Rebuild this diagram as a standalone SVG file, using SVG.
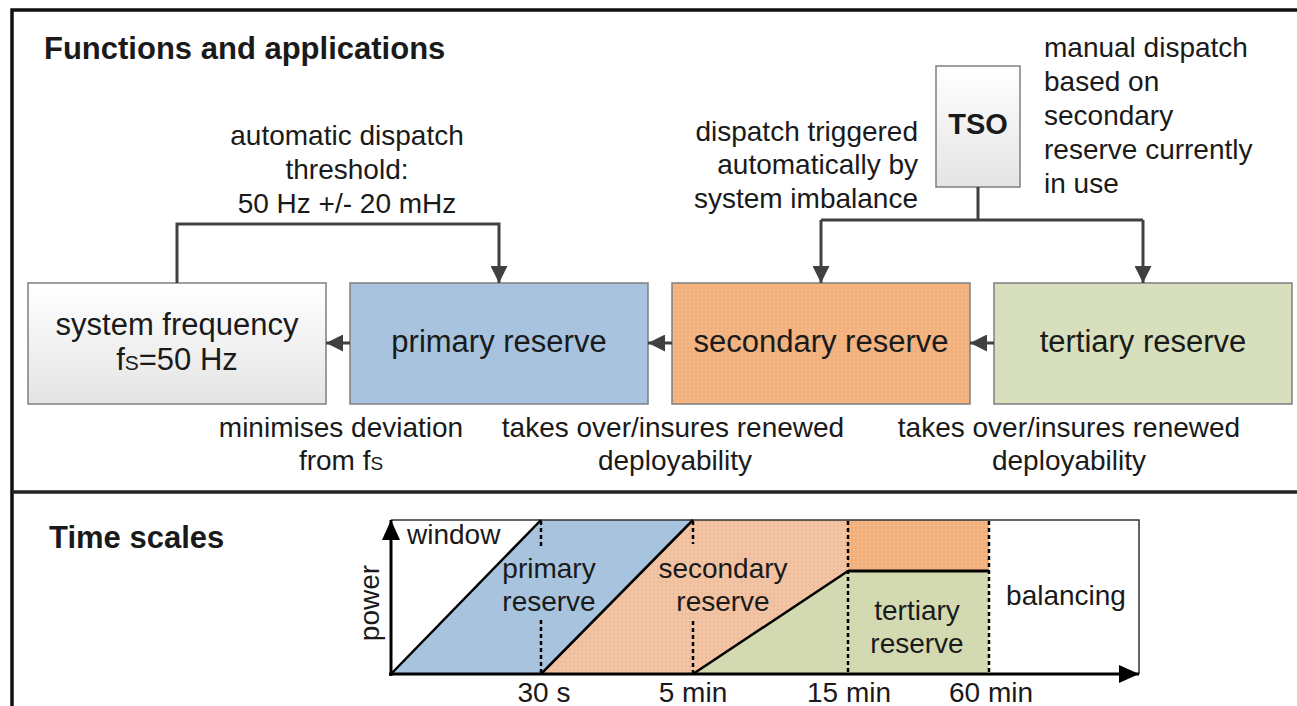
<svg xmlns="http://www.w3.org/2000/svg" width="1297" height="706" viewBox="0 0 1297 706">
<defs>
<style>
text{font-family:"Liberation Sans",Arial,sans-serif;fill:#1a1a1a}
.t{font-size:28px}
.tc{font-size:28px;text-anchor:middle}
.bx{font-size:31px;text-anchor:middle}
.h{font-size:31px;font-weight:bold}
.box{stroke:#7f7f7f;stroke-width:1.5}
.con{fill:none;stroke:#404040;stroke-width:3}
.ax{fill:none;stroke:#000;stroke-width:3}
.dg{fill:none;stroke:#000;stroke-width:2.5}
.ds{fill:none;stroke:#000;stroke-width:2.5;stroke-dasharray:4 3}
</style>
<linearGradient id="gw" x1="0" y1="0" x2="0" y2="1"><stop offset="0" stop-color="#ffffff"/><stop offset="1" stop-color="#e4e4e4"/></linearGradient>
<pattern id="po" width="4" height="4" patternUnits="userSpaceOnUse"><rect width="4" height="4" fill="#f1b07c"/><rect x="1" y="1" width="1.5" height="1.5" fill="#f6c29a"/></pattern>
<pattern id="pl" width="4" height="4" patternUnits="userSpaceOnUse"><rect width="4" height="4" fill="#f2c4a4"/><rect x="1" y="1" width="1.5" height="1.5" fill="#e9b591"/></pattern>
<marker id="ah" viewBox="0 0 17 17" refX="17" refY="8.5" markerWidth="17" markerHeight="17" markerUnits="userSpaceOnUse" orient="auto"><path d="M0,0 L17,8.5 L0,17 z" fill="#404040"/></marker>
<marker id="ak" viewBox="0 0 20 18" refX="20" refY="9" markerWidth="20" markerHeight="18" markerUnits="userSpaceOnUse" orient="auto"><path d="M0,0 L20,9 L0,18 z" fill="#000"/></marker>
</defs>
<rect width="1297" height="706" fill="#fff"/>
<g id="frame">
<rect x="12" y="10" width="1300" height="710" fill="none" stroke="#111" stroke-width="3.5"/>
<line x1="12" y1="492" x2="1310" y2="492" stroke="#222" stroke-width="3.5"/>
</g>
<g id="section-functions">
<text class="h" x="44" y="59">Functions and applications</text>
</g>
<g id="node-system-frequency">
<rect class="box" x="28" y="283" width="298" height="121" fill="url(#gw)"/>
<text class="bx" x="177" y="335">system frequency</text>
<text class="bx" x="177" y="370">f<tspan font-size="21">S</tspan>=50 Hz</text>
</g>
<g id="node-primary">
<rect class="box" x="350" y="283" width="298" height="121" fill="#a7c3de"/>
<text class="bx" x="499" y="352">primary reserve</text>
</g>
<g id="node-secondary">
<rect class="box" x="672" y="283" width="298" height="121" fill="url(#po)"/>
<text class="bx" x="821" y="352">secondary reserve</text>
</g>
<g id="node-tertiary">
<rect class="box" x="994" y="283" width="298" height="121" fill="#d7dfbc"/>
<text class="bx" x="1143" y="352">tertiary reserve</text>
</g>
<g id="node-tso">
<rect class="box" x="936" y="66" width="84" height="121" fill="url(#gw)"/>
<text x="978" y="134" font-size="29" font-weight="bold" text-anchor="middle">TSO</text>
</g>
<g id="connectors">
<line class="con" x1="350" y1="343" x2="326" y2="343" marker-end="url(#ah)"/>
<line class="con" x1="672" y1="343" x2="648" y2="343" marker-end="url(#ah)"/>
<line class="con" x1="994" y1="343" x2="970" y2="343" marker-end="url(#ah)"/>
<path class="con" d="M177,283 V224 H499 V283" marker-end="url(#ah)"/>
<path class="con" d="M978,187 V220 M821,220 H1143"/>
<path class="con" d="M821,220 V283" marker-end="url(#ah)"/>
<path class="con" d="M1143,220 V283" marker-end="url(#ah)"/>
</g>
<g id="labels">
<text class="tc" x="347" y="145">automatic dispatch</text>
<text class="tc" x="347" y="179">threshold:</text>
<text class="tc" x="347" y="213">50 Hz +/- 20 mHz</text>
<text class="t" x="918" y="141" text-anchor="end">dispatch triggered</text>
<text class="t" x="918" y="174" text-anchor="end">automatically by</text>
<text class="t" x="918" y="208" text-anchor="end">system imbalance</text>
<text class="t" x="1044" y="57">manual dispatch</text>
<text class="t" x="1044" y="91">based on</text>
<text class="t" x="1044" y="125">secondary</text>
<text class="t" x="1044" y="159">reserve currently</text>
<text class="t" x="1044" y="193">in use</text>
<text class="tc" x="341" y="437">minimises deviation</text>
<text class="tc" x="341" y="470">from f<tspan font-size="19">S</tspan></text>
<text class="tc" x="673" y="437">takes over/insures renewed</text>
<text class="tc" x="675" y="470">deployability</text>
<text class="tc" x="1069" y="437">takes over/insures renewed</text>
<text class="tc" x="1069" y="470">deployability</text>
</g>
<g id="section-timescales">
<text class="h" x="49" y="548">Time scales</text>
<g id="chart">
<path d="M391,674 L541,520 L693,520 L541,674 Z" fill="#a7c3de"/>
<path d="M541,674 L693,520 L848,520 L848,571 L693,674 Z" fill="url(#pl)"/>
<path d="M848,520 L989,520 L989,571 L848,571 Z" fill="url(#po)"/>
<path d="M693,674 L848,571 L989,571 L989,674 Z" fill="#d3dab1"/>
<path d="M391,520 H1139 V674" fill="none" stroke="#333" stroke-width="1.5"/>
<path class="dg" d="M391,674 L541,520 M541,674 L693,520 M693,674 L848,571"/>
<line x1="848" y1="571" x2="989" y2="571" stroke="#000" stroke-width="3"/>
<path class="ds" d="M541,521 V546 M541,620 V674 M693,521 V544 M693,621 V674 M848,521 V674 M989,521 V674"/>
<line class="ax" x1="391" y1="676" x2="391" y2="520" marker-end="url(#ak)"/>
<line class="ax" x1="389" y1="674" x2="1139" y2="674" marker-end="url(#ak)"/>
<text class="t" x="407" y="544">window</text>
<text class="tc" x="549" y="578">primary</text>
<text class="tc" x="549" y="611">reserve</text>
<text class="tc" x="723" y="578">secondary</text>
<text class="tc" x="723" y="611">reserve</text>
<text class="tc" x="917" y="620">tertiary</text>
<text class="tc" x="917" y="653">reserve</text>
<text class="tc" x="1066" y="605">balancing</text>
<text class="tc" transform="translate(379,603) rotate(-90)">power</text>
<text class="tc" x="544" y="702">30 s</text>
<text class="tc" x="693" y="702">5 min</text>
<text class="tc" x="849" y="702">15 min</text>
<text class="tc" x="991" y="702">60 min</text>
</g>
</g>
</svg>
